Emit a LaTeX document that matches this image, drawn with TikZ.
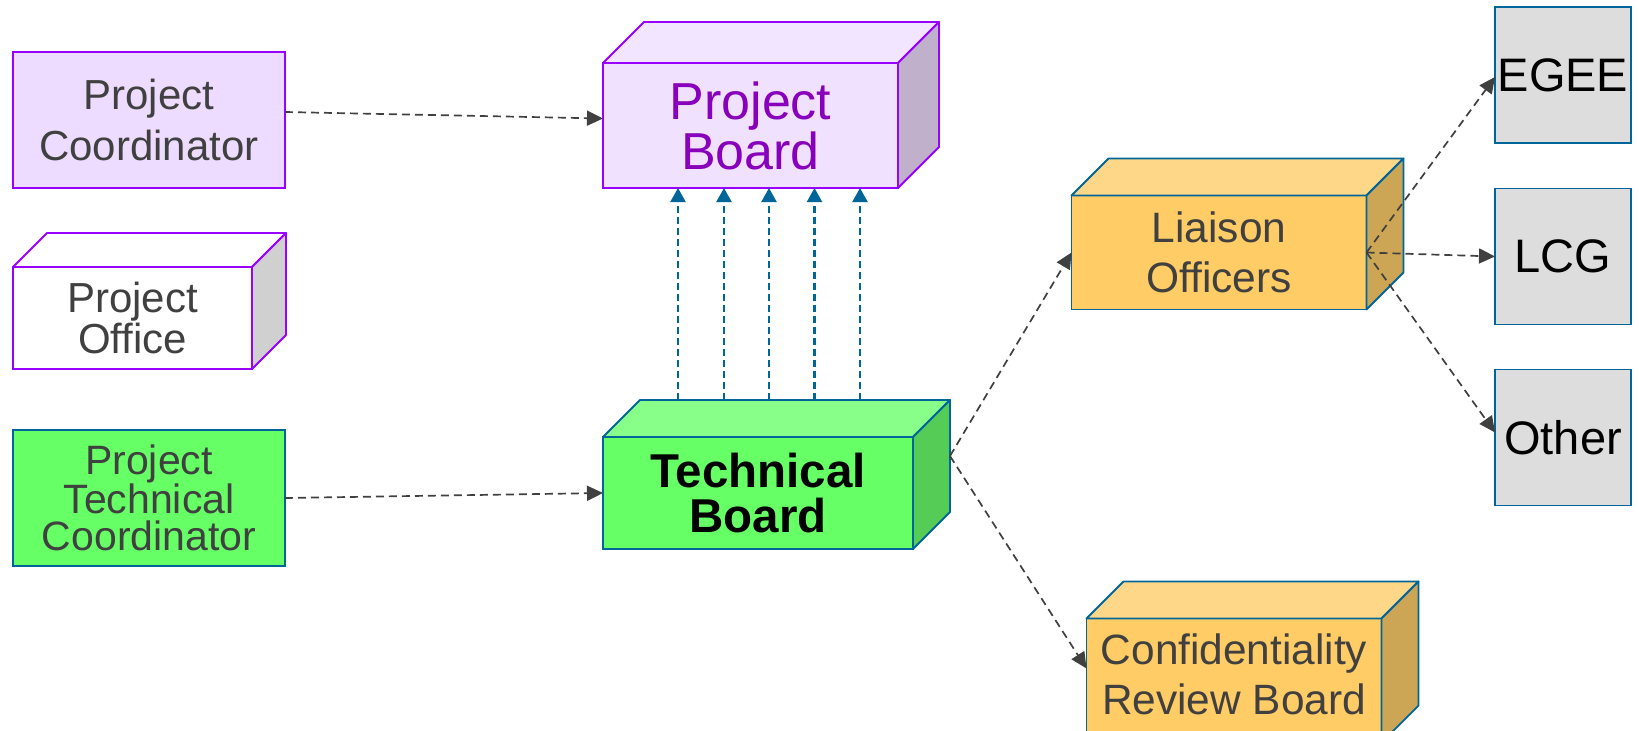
\documentclass[tikz,border=0pt]{standalone}
\usepackage{fontspec}
\setmainfont{Liberation Sans}
\usetikzlibrary{arrows.meta,calc}

\definecolor{violetline}{HTML}{9900FF}
\definecolor{lavender}{HTML}{EDDCFF}
\definecolor{lavfront}{HTML}{F0E2FF}
\definecolor{lavtop}{HTML}{F2E5FF}
\definecolor{lavside}{HTML}{C0B0CC}
\definecolor{plum}{HTML}{8800BB}
\definecolor{greyside}{HTML}{D0D0D0}
\definecolor{tealline}{HTML}{006699}
\definecolor{greenfront}{HTML}{66FF66}
\definecolor{greentop}{HTML}{88FF88}
\definecolor{greenside}{HTML}{55CC55}
\definecolor{amberfront}{HTML}{FFCC66}
\definecolor{ambertop}{HTML}{FFD788}
\definecolor{amberside}{HTML}{CCA555}
\definecolor{paneltint}{HTML}{DDDDDD}
\definecolor{inkgrey}{HTML}{404040}

\tikzset{
  box/.style={draw, line width=1.8pt, inner sep=0pt, outer sep=0pt, align=center, text=inkgrey},
  rolebox/.style={box, minimum width=272pt, minimum height=136pt},
  boardface/.style={box, minimum width=295pt},
  partner/.style={box, draw=tealline, fill=paneltint, text=black,
    minimum width=136pt, minimum height=136pt, font=\fontsize{47}{50}\selectfont},
  link/.style={draw=inkgrey, line width=1.7pt, dash pattern=on 8pt off 5pt,
    -{Triangle[length=16pt,width=15pt]}},
  report/.style={draw=tealline, line width=2.2pt, dash pattern=on 7pt off 4pt,
    -{Triangle[length=14pt,width=15pt]}},
}

% top and right faces of a box whose front face is node #1
% #2 depth, #3 top fill, #4 side fill, #5 edge colour
\newcommand\drawcubefaces[5]{%
  \draw[line width=1.8pt, line join=round, draw=#5, fill=#3]
    (#1.north west) -- ++(#2,-#2) -- ($(#1.north east)+(#2,-#2)$) -- (#1.north east) -- cycle;
  \draw[line width=1.8pt, line join=round, draw=#5, fill=#4]
    (#1.north east) -- ++(#2,-#2) -- ($(#1.south east)+(#2,-#2)$) -- (#1.south east) -- cycle;
}

\begin{document}
\begin{tikzpicture}[x=1pt, y=-1pt]
  \clip (0,0) rectangle (1639,731);
  \fill[white] (0,0) rectangle (1639,731);

  % left column
  \node[rolebox, draw=violetline, fill=lavender, font=\fontsize{42}{51}\selectfont]
    (pc) at (149,120) {Project\\Coordinator};
  \node[box, draw=violetline, fill=white, minimum width=239pt, minimum height=102pt,
    font=\fontsize{42}{41}\selectfont] (po) at (132.5,318) {Project\\Office};
  \drawcubefaces{po}{34}{white}{greyside}{violetline}
  \node[rolebox, draw=tealline, fill=greenfront, font=\fontsize{41}{37}\selectfont]
    (ptc) at (149,498) {Project\\Technical\\Coordinator};

  % boards
  \node[boardface, draw=violetline, fill=lavfront, text=plum, minimum height=125pt,
    font=\fontsize{52}{50}\selectfont] (pb) at (750.5,125.5) {Project\\Board};
  \drawcubefaces{pb}{41}{lavtop}{lavside}{violetline}

  \node[box, draw=tealline, fill=greenfront, text=black, minimum width=310pt,
    minimum height=112pt, font=\fontsize{47.5}{45}\bfseries\selectfont]
    (tb) at (758,493) {Technical\\Board};
  \drawcubefaces{tb}{37}{greentop}{greenside}{tealline}

  \node[boardface, draw=tealline, fill=amberfront, minimum height=114pt,
    font=\fontsize{42.5}{50}\selectfont] (lo) at (1219,252.5) {Liaison\\Officers};
  \drawcubefaces{lo}{37}{ambertop}{amberside}{tealline}

  \node[boardface, draw=tealline, fill=amberfront, minimum height=124pt]
    (crb) at (1234,680.5) {};
  \drawcubefaces{crb}{37}{ambertop}{amberside}{tealline}
  \node[align=center, text=inkgrey, inner sep=0pt, font=\fontsize{42.4}{50}\selectfont]
    (crbtext) at (1234,674) {Confidentiality\\Review Board};

  % partner projects
  \node[partner] (egee) at (1563,75) {EGEE};
  \node[partner] (lcg) at (1563,256.5) {LCG};
  \node[partner] (oth) at (1563,437.5) {Other};

  % reporting lines into the project board
  \coordinate (tbtop) at ($(tb.north)+(37,-37)$);
  \foreach \dx in {75,121,166,211.5,257}
    \draw[report] let \p1=([xshift=\dx pt]pb.south west), \p2=(tbtop) in (\x1,\y2) -- (\p1);

  % dashed relations
  \coordinate (tbrim) at ($(tb.east)+(37,-37)$);
  \draw[link] ([yshift=8pt]pc.east) -- ([yshift=7pt]pb.west);
  \draw[link] (ptc.east) -- (tb.west);
  \draw[link] (tbrim) -- (lo.west);
  \draw[link] (tbrim) -- ([yshift=12pt]crb.west);
  \draw[link] (lo.east) -- ([yshift=-2pt]egee.west);
  \draw[link] (lo.east) -- (lcg.west);
  \draw[link] (lo.east) -- ([yshift=5pt]oth.west);
\end{tikzpicture}
\end{document}
